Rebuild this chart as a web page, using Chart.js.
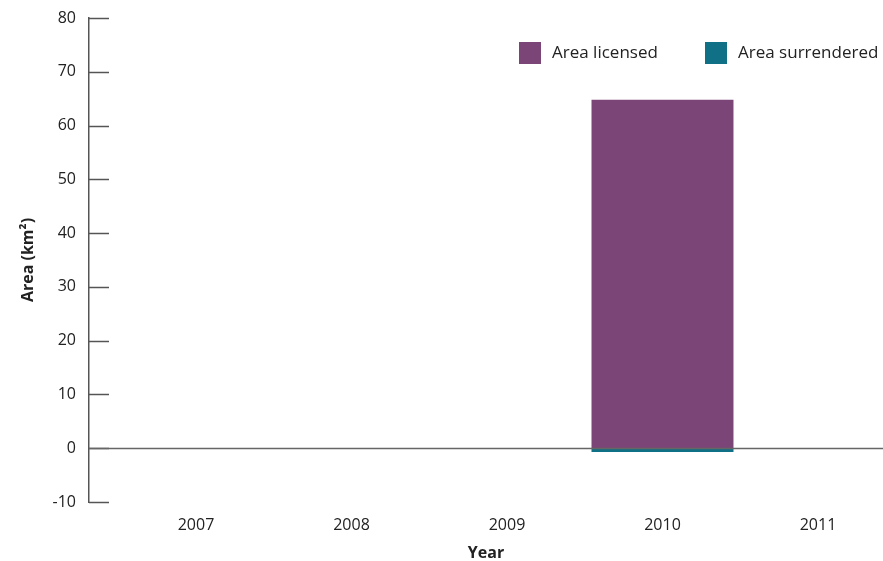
<!DOCTYPE html>
<html><head><meta charset="utf-8">
<script src="https://cdn.jsdelivr.net/npm/chart.js@4"></script>
<style>html,body{margin:0;padding:0;background:#fff}#w{width:883px;height:561px}</style>
</head><body><div id="w"><canvas id="c"></canvas></div>
<script>
const years = [2007, 2008, 2009, 2010, 2011];
const areaLicensed = [0, 0, 0, 64.8, 0];
const areaSurrendered = [0, 0, 0, -0.7, 0];
const yTicks = [-10, 0, 10, 20, 30, 40, 50, 60, 70, 80];
const seriesNames = ['Area licensed', 'Area surrendered'];
const seriesColors = ['#7B4677', '#107086'];

const FONT = '"Open Sans", sans-serif';
const TXT = '#222';

const decor = {
  id: 'decor',
  afterDatasetsDraw(chart) {
    const ctx = chart.ctx, y = chart.scales.y, a = chart.chartArea;
    ctx.save();
    ctx.strokeStyle = '#555';
    ctx.lineWidth = 1.5;
    yTicks.forEach(v => {
      const py = Math.round(y.getPixelForValue(v)) + 0.5;
      ctx.beginPath(); ctx.moveTo(a.left, py); ctx.lineTo(a.left + 20, py); ctx.stroke();
    });
    const z = Math.round(y.getPixelForValue(0)) + 0.5;
    ctx.strokeStyle = '#666';
    ctx.beginPath(); ctx.moveTo(a.left, z); ctx.lineTo(a.right, z); ctx.stroke();
    // legend
    ctx.font = '17px ' + FONT;
    ctx.textBaseline = 'middle';
    const lx = [519, 705];
    chart.data.datasets.forEach((d, i) => {
      ctx.fillStyle = d.backgroundColor;
      ctx.fillRect(lx[i], 42, 22, 22);
      ctx.fillStyle = TXT;
      ctx.fillText(d.label, lx[i] + 33, 53);
    });
    ctx.restore();
  }
};

new Chart(document.getElementById('c'), {
  type: 'bar',
  data: {
    datasets: [
      { label: seriesNames[0], data: years.map((x, i) => ({ x, y: areaLicensed[i] })), backgroundColor: seriesColors[0], borderWidth: 0, barPercentage: 0.913, categoryPercentage: 1 },
      { label: seriesNames[1], data: years.map((x, i) => ({ x, y: areaSurrendered[i] })), backgroundColor: seriesColors[1], borderWidth: 0, barPercentage: 0.913, categoryPercentage: 1 }
    ]
  },
  options: {
    responsive: true, maintainAspectRatio: false, animation: false,
    layout: { padding: { top: 18, right: 0, bottom: 0, left: 0 } },
    plugins: { legend: { display: false }, tooltip: { enabled: false } },
    scales: {
      x: {
        type: 'linear', stacked: true, offset: false, min: 2006.312, max: 2011.418,
        grid: { display: false }, border: { display: false },
        afterBuildTicks: s => { s.ticks = years.map(v => ({ value: v })); },
        afterFit: s => { s.height = 59; s.paddingLeft = 0; s.paddingRight = 0; },
        ticks: { callback: v => String(v), color: TXT, font: { family: FONT, size: 16 }, padding: 6, maxRotation: 0 },
        title: { display: true, text: 'Year', color: TXT, font: { family: FONT, size: 16, weight: 'bold', lineHeight: 1 }, padding: { top: 4, bottom: 0 } }
      },
      y: {
        stacked: true, min: -10, max: 80,
        afterBuildTicks: s => { s.ticks = yTicks.map(v => ({ value: v })); },
        afterFit: s => { s.width = 89; s.paddingTop = 0; s.paddingBottom = 0; },
        grid: { display: false, drawTicks: false },
        border: { display: true, color: '#555', width: 1.5 },
        ticks: { color: TXT, font: { family: FONT, size: 16 }, padding: 13 },
        title: { display: true, text: 'Area (km²)', color: TXT, font: { family: FONT, size: 16, weight: 'bold', lineHeight: 1 }, padding: { top: 20, bottom: 0 } }
      }
    }
  },
  plugins: [decor]
});
</script></body></html>
